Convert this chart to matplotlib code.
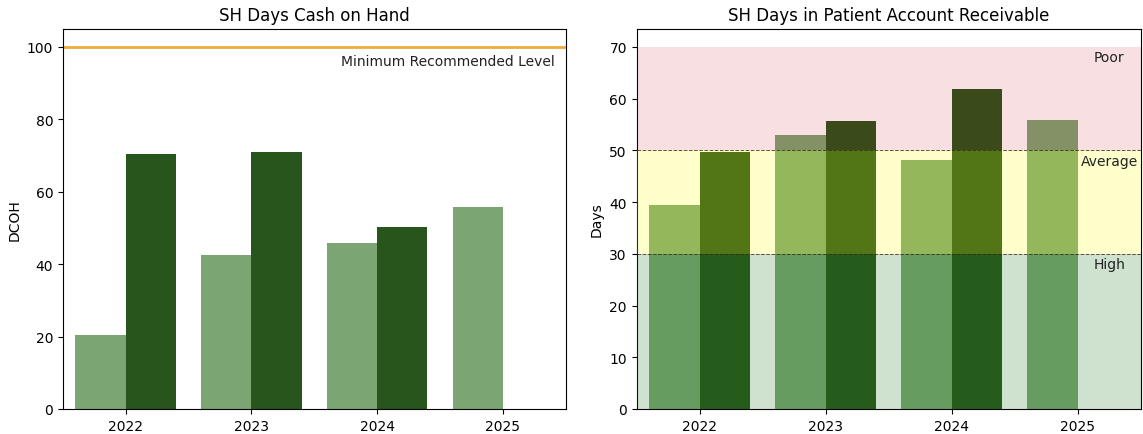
import numpy as np
import matplotlib
matplotlib.use("Agg")
import matplotlib.pyplot as plt

years = ["2022", "2023", "2024", "2025"]

# days cash on hand
dcoh_light = [20.3, 42.4, 45.8, 55.7]
dcoh_dark = [70.5, 71.1, 50.2, np.nan]
min_level = 100

# days in patient account receivable
ar_light = [39.4, 52.9, 48.2, 55.9]
ar_dark = [49.7, 55.7, 61.9, np.nan]

bands = [(0, 30, "#1e781e", 0.21, "High"),
         (30, 50, "yellow", 0.2, "Average"),
         (50, 70, "#c80014", 0.12, "Poor")]

light = "#7ba673"
dark = "#28551b"
w = 0.4
x = np.arange(len(years))

fig = plt.figure(figsize=(11.43, 4.35), dpi=100)
ax1 = fig.add_axes([0.055, 0.0575, 0.44, 0.874])
ax2 = fig.add_axes([0.557, 0.0575, 0.441, 0.874])

# left panel
ax1.bar(x - w / 2, dcoh_light, w, color=light)
ax1.bar(x + w / 2, dcoh_dark, w, color=dark)
ax1.axhline(min_level, color="#f2a93b", lw=2)
ax1.text(3.41, 96, "Minimum Recommended Level", ha="right", va="center", fontsize=10, color="#222222")
ax1.set_xticks(x)
ax1.set_xticklabels(years)
ax1.set_xlim(-0.5, 3.5)
ax1.set_ylim(0, 105)
ax1.set_ylabel("DCOH")
ax1.set_title("SH Days Cash on Hand", fontsize=12)

# right panel, bands drawn over the bars
ax2.bar(x - w / 2, ar_light, w, color=light)
ax2.bar(x + w / 2, ar_dark, w, color=dark)
for lo, hi, c, a, name in bands:
    ax2.axhspan(lo, hi, color=c, alpha=a, lw=0, zorder=3)
    ax2.text(3.25, hi - 2, name, ha="center", va="center", fontsize=10, color="#222222", zorder=4)
for y in [30, 50]:
    ax2.axhline(y, color="#3a2a1a", ls="--", lw=0.7, alpha=0.8, zorder=4)
ax2.set_xticks(x)
ax2.set_xticklabels(years)
ax2.set_xlim(-0.5, 3.5)
ax2.set_ylim(0, 73.5)
ax2.set_ylabel("Days")
ax2.set_title("SH Days in Patient Account Receivable", fontsize=12)

fig.savefig("out.png", dpi=100)
